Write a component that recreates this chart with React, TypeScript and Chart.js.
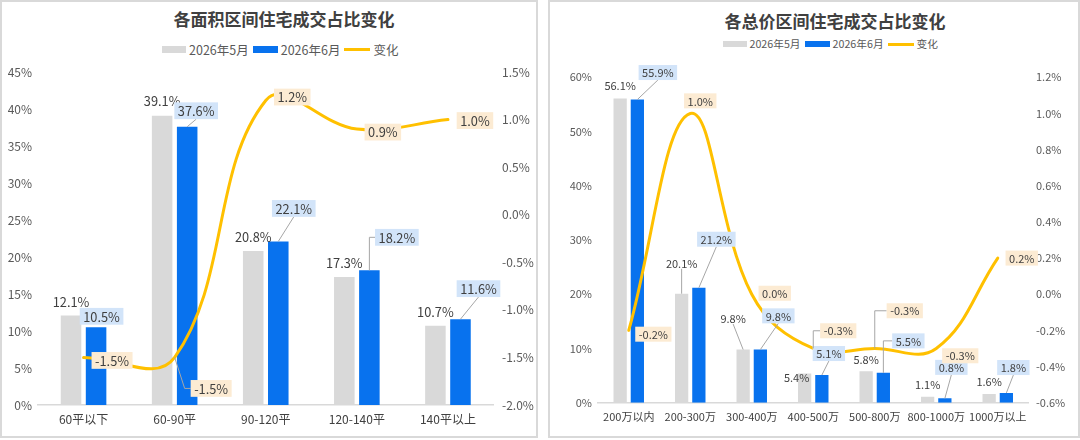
import { useEffect, useRef } from "react";
import { Chart, registerables } from "chart.js";

Chart.register(...registerables);

const FONT = '"Noto Sans CJK SC", "Noto Sans", sans-serif';
const MAY_COLOR = "#D9D9D9";
const JUNE_COLOR = "#0872EE";
const CHANGE_COLOR = "#FFC000";

const seriesNames = ["2026年5月", "2026年6月", "变化"];

// 各面积区间
const areaCategories = ["60平以下", "60-90平", "90-120平", "120-140平", "140平以上"];
const areaMay = [12.1, 39.1, 20.8, 17.3, 10.7];
const areaJune = [10.5, 37.6, 22.1, 18.2, 11.6];
const areaChange = [-1.5, -1.5, 1.2, 0.9, 1.0];
const areaShareTicks = [0, 45, 5]; // min, max, step
const areaChangeTicks = [-2, 1.5, 0.5];

// 各总价区间
const priceCategories = [
  "200万以内",
  "200-300万",
  "300-400万",
  "400-500万",
  "500-800万",
  "800-1000万",
  "1000万以上",
];
const priceMay = [56.1, 20.1, 9.8, 5.4, 5.8, 1.1, 1.6];
const priceJune = [55.9, 21.2, 9.8, 5.1, 5.5, 0.8, 1.8];
const priceChange = [-0.2, 1.0, 0.0, -0.3, -0.3, -0.3, 0.2];
const priceShareTicks = [0, 60, 10];
const priceChangeTicks = [-0.6, 1.2, 0.2];

// label placement: [dx, dy, leader] from the bar top / line point
// leader: 0 none, 1 straight, 2 up-then-across, 3 diagonal-then-across
type LabelPos = [number, number, number];

const areaMayPos: LabelPos[] = [
  [0, -14, 0],
  [0, -15, 0],
  [0, -14, 0],
  [0, -14, 0],
  [0, -14, 0],
];
const areaJunePos: LabelPos[] = [
  [5.5, -11, 0],
  [9, -16, 1],
  [15.5, -33, 1],
  [27.5, -33, 2],
  [18, -30.5, 1],
];
const areaChangePos: LabelPos[] = [
  [28.5, 3, 0],
  [36.5, 31, 3],
  [26.5, -3.5, 0],
  [26, 3, 0],
  [27, 1, 0],
];

const priceMayPos: LabelPos[] = [
  [0, -13.4, 0],
  [0, -30.4, 1],
  [-10, -31, 1],
  [-8, 4.3, 0],
  [0, -12, 0],
  [0, -12.7, 0],
  [0, -12.7, 0],
];
const priceJunePos: LabelPos[] = [
  [20.5, -27, 1],
  [17.5, -48.5, 1],
  [18, -33.7, 1],
  [7, -21.5, 1],
  [25, -32, 2],
  [6.5, -31, 1],
  [7, -25.4, 1],
];
const priceChangePos: LabelPos[] = [
  [24.6, 3.8, 0],
  [10, -12.6, 0],
  [23, -1, 0],
  [25, -17.7, 2],
  [30, -37.7, 2],
  [24, 7.3, 0],
  [24, 0, 0],
];

function makeValueLabels(
  sets: { pos: LabelPos[]; box: string | null }[],
  fontSize: number,
) {
  return {
    id: "valueLabels",
    afterDatasetsDraw(chart: Chart) {
      const ctx = chart.ctx;
      ctx.save();
      ctx.font = `${fontSize}px ${FONT}`;
      ctx.textAlign = "center";
      ctx.textBaseline = "middle";
      sets.forEach((set, di) => {
        const meta = chart.getDatasetMeta(di);
        const values = chart.data.datasets[di].data as number[];
        meta.data.forEach((el: any, i: number) => {
          const [dx, dy, leader] = set.pos[i];
          const ax = el.x;
          const ay = el.y;
          const cx = ax + dx;
          const cy = ay + dy;
          const text = values[i].toFixed(1) + "%";
          const w = ctx.measureText(text).width + 7;
          const h = fontSize + 4;
          const left = cx - w / 2;
          const bottom = set.box ? cy + h / 2 : cy + fontSize / 2;
          if (leader) {
            ctx.beginPath();
            ctx.strokeStyle = "#A6A6A6";
            ctx.lineWidth = 1;
            ctx.moveTo(ax, ay);
            if (leader === 1) {
              ctx.lineTo(cx, bottom);
            } else if (leader === 2) {
              ctx.lineTo(ax, cy);
              ctx.lineTo(left, cy);
            } else {
              ctx.lineTo(left - 6, cy);
              ctx.lineTo(left, cy);
            }
            ctx.stroke();
          }
          if (set.box) {
            ctx.fillStyle = set.box;
            ctx.fillRect(left, cy - h / 2, w, h);
          }
          ctx.fillStyle = "#404040";
          ctx.fillText(text, cx, cy + 0.5);
        });
      });
      ctx.restore();
    },
  };
}

interface CardProps {
  x: number;
  width: number;
  title: string;
  titleTop: number;
  titleShift: number;
  legendLeft: number;
  legendTop: number;
  legendFont: number;
  swatchHeight: number;
  categories: string[];
  may: number[];
  june: number[];
  change: number[];
  shareTicks: number[];
  changeTicks: number[];
  fontSize: number;
  labelFont: number;
  plotTop: number;
  leftAxis: number;
  rightAxis: number;
  xAxis: number;
  xPad: number;
  leftPad: number;
  rightPad: number;
  categoryPct: number;
  barPct: number;
  mayPos: LabelPos[];
  junePos: LabelPos[];
  changePos: LabelPos[];
}

function ComboCard(p: CardProps) {
  const canvasRef = useRef<HTMLCanvasElement | null>(null);

  useEffect(() => {
    if (!canvasRef.current) return;
    const tickFont = { family: FONT, size: p.fontSize };

    const chart = new Chart(canvasRef.current, {
      type: "bar",
      data: {
        labels: p.categories,
        datasets: [
          {
            type: "bar",
            label: seriesNames[0],
            data: p.may,
            backgroundColor: MAY_COLOR,
            borderWidth: 0,
            categoryPercentage: p.categoryPct,
            barPercentage: p.barPct,
            yAxisID: "y",
            order: 1,
          },
          {
            type: "bar",
            label: seriesNames[1],
            data: p.june,
            backgroundColor: JUNE_COLOR,
            borderWidth: 0,
            categoryPercentage: p.categoryPct,
            barPercentage: p.barPct,
            yAxisID: "y",
            order: 1,
          },
          {
            type: "line",
            label: seriesNames[2],
            data: p.change,
            borderColor: CHANGE_COLOR,
            borderWidth: 3,
            borderCapStyle: "round",
            tension: 0.4,
            pointRadius: 0,
            fill: false,
            yAxisID: "y1",
            order: 0,
          },
        ],
      },
      options: {
        responsive: true,
        maintainAspectRatio: false,
        animation: false,
        layout: { padding: { top: p.plotTop, left: 0, right: 0, bottom: 0 } },
        plugins: {
          legend: { display: false },
          title: { display: false },
          tooltip: { enabled: false },
        },
        scales: {
          x: {
            grid: { display: false, drawTicks: false },
            border: { display: true, color: "#D9D9D9", width: 1.5 },
            ticks: {
              color: "#404040",
              font: tickFont,
              padding: p.xPad,
              maxRotation: 0,
              autoSkip: false,
            },
            afterFit: (s: any) => {
              s.height = p.xAxis;
            },
          },
          y: {
            position: "left",
            min: p.shareTicks[0],
            max: p.shareTicks[1],
            grid: { display: false, drawTicks: false },
            border: { display: false },
            ticks: {
              stepSize: p.shareTicks[2],
              color: "#595959",
              font: tickFont,
              padding: p.leftPad,
              callback: (v: any) => Number(v).toFixed(0) + "%",
            },
            afterFit: (s: any) => {
              s.width = p.leftAxis;
            },
          },
          y1: {
            position: "right",
            min: p.changeTicks[0],
            max: p.changeTicks[1],
            grid: { display: false, drawTicks: false },
            border: { display: false },
            ticks: {
              stepSize: p.changeTicks[2],
              color: "#595959",
              font: tickFont,
              padding: p.rightPad,
              callback: (v: any) => Number(v).toFixed(1) + "%",
            },
            afterFit: (s: any) => {
              s.width = p.rightAxis;
            },
          },
        },
      },
      plugins: [
        makeValueLabels(
          [
            { pos: p.mayPos, box: null },
            { pos: p.junePos, box: "#D2E4F9" },
            { pos: p.changePos, box: "#FCEBD3" },
          ],
          p.labelFont,
        ),
      ],
    });

    return () => {
      chart.destroy();
    };
  }, []);

  const swatch = (color: string, w: number, h: number) => (
    <span style={{ width: w, height: h, background: color, marginRight: 3, flex: "none" }} />
  );

  return (
    <div
      style={{
        position: "absolute",
        left: p.x,
        top: 0,
        width: p.width,
        height: 434,
        border: "2px solid #D9D9D9",
        background: "#fff",
        fontFamily: FONT,
      }}
    >
      <div
        style={{
          position: "absolute",
          left: 0,
          top: p.titleTop,
          width: "100%",
          boxSizing: "border-box",
          paddingLeft: p.titleShift * 2,
          textAlign: "center",
          fontSize: 17,
          lineHeight: "22px",
          fontWeight: 700,
          color: "#404040",
        }}
      >
        {p.title}
      </div>
      <div
        style={{
          position: "absolute",
          left: p.legendLeft,
          top: p.legendTop,
          display: "flex",
          alignItems: "center",
          fontSize: p.legendFont,
          lineHeight: 1,
          color: "#595959",
          whiteSpace: "nowrap",
        }}
      >
        {swatch(MAY_COLOR, 24, p.swatchHeight)}
        <span style={{ marginRight: 4 }}>{seriesNames[0]}</span>
        {swatch(JUNE_COLOR, 25, p.swatchHeight)}
        <span style={{ marginRight: 4 }}>{seriesNames[1]}</span>
        {swatch(CHANGE_COLOR, 26, 3)}
        <span>{seriesNames[2]}</span>
      </div>
      <div style={{ position: "absolute", left: 0, top: 0, width: p.width, height: 434 }}>
        <canvas ref={canvasRef} />
      </div>
    </div>
  );
}

export default function App() {
  return (
    <div
      style={{
        position: "fixed",
        left: 0,
        top: 0,
        width: 1080,
        height: 440,
        background: "#fff",
        overflow: "hidden",
      }}
    >
      <ComboCard
        x={0}
        width={534}
        title="各面积区间住宅成交占比变化"
        titleTop={5.5}
        titleShift={15}
        legendLeft={160}
        legendTop={41.5}
        legendFont={12.5}
        swatchHeight={7}
        categories={areaCategories}
        may={areaMay}
        june={areaJune}
        change={areaChange}
        shareTicks={areaShareTicks}
        changeTicks={areaChangeTicks}
        fontSize={12}
        labelFont={12.8}
        plotTop={70}
        leftAxis={36}
        rightAxis={42.5}
        xAxis={31}
        xPad={6.8}
        leftPad={6}
        rightPad={8.5}
        categoryPct={0.55}
        barPct={0.82}
        mayPos={areaMayPos}
        junePos={areaJunePos}
        changePos={areaChangePos}
      />
      <ComboCard
        x={548}
        width={528}
        title="各总价区间住宅成交占比变化"
        titleTop={7.8}
        titleShift={21}
        legendLeft={172.5}
        legendTop={37}
        legendFont={10.7}
        swatchHeight={6}
        categories={priceCategories}
        may={priceMay}
        june={priceJune}
        change={priceChange}
        shareTicks={priceShareTicks}
        changeTicks={priceChangeTicks}
        fontSize={11}
        labelFont={11}
        plotTop={75.3}
        leftAxis={48}
        rightAxis={49.5}
        xAxis={33.3}
        xPad={7.4}
        leftPad={6}
        rightPad={7.5}
        categoryPct={0.56}
        barPct={0.77}
        mayPos={priceMayPos}
        junePos={priceJunePos}
        changePos={priceChangePos}
      />
    </div>
  );
}
